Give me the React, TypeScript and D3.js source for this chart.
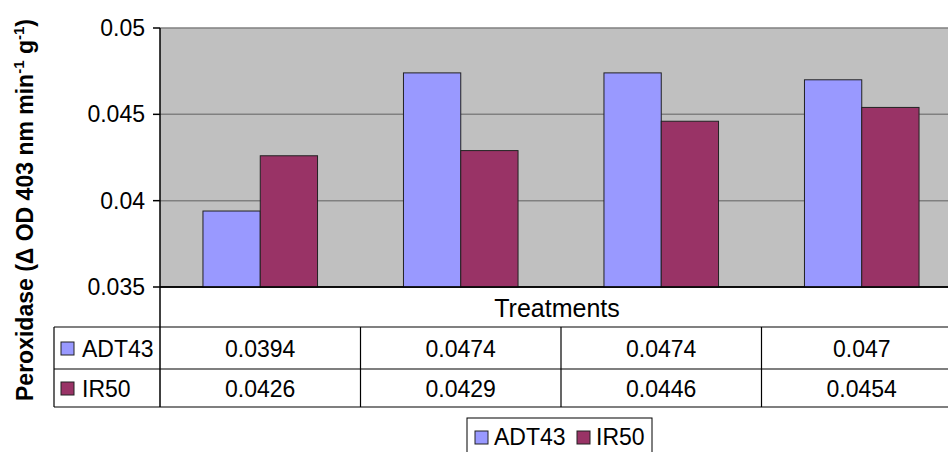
import React, { useEffect, useRef } from 'react';
import * as d3 from 'd3';

const treatments = ['T1', 'T2', 'T3', 'T4'];
const seriesNames = ['ADT43', 'IR50'];
const adt43 = [0.0394, 0.0474, 0.0474, 0.047];
const ir50 = [0.0426, 0.0429, 0.0446, 0.0454];
const yTicks = [0.035, 0.04, 0.045, 0.05];
const tableLabels = [
  ['0.0394', '0.0474', '0.0474', '0.047'],
  ['0.0426', '0.0429', '0.0446', '0.0454'],
];

const COLORS: Record<string, string> = {
  ADT43: '#9999ff',
  IR50: '#993366',
};

const FONT = 'Arial, "Liberation Sans", sans-serif';

const App: React.FC = () => {
  const svgRef = useRef<SVGSVGElement>(null);

  useEffect(() => {
    if (!svgRef.current) return;
    const svg = d3.select(svgRef.current);
    svg.selectAll('*').remove();

    const left = 160;
    const right = 962;
    const top = 28;
    const bottom = 287;
    const tableTop = 327;
    const row1 = 369;
    const row2 = 407;
    const headerLeft = 54;

    const y = d3.scaleLinear().domain([0.035, 0.05]).range([bottom, top]);
    const x0 = d3.scaleBand<string>().domain(treatments).range([left, right]);
    const bw = x0.bandwidth() / 3.5;
    const x1 = d3
      .scaleBand<string>()
      .domain(seriesNames)
      .range([bw * 0.75, bw * 2.75]);

    // plot background
    svg
      .append('rect')
      .attr('x', left)
      .attr('y', top)
      .attr('width', right - left)
      .attr('height', bottom - top)
      .attr('fill', '#c0c0c0');

    // gridlines
    yTicks.forEach((t) => {
      svg
        .append('line')
        .attr('x1', left)
        .attr('x2', right)
        .attr('y1', y(t))
        .attr('y2', y(t))
        .attr('stroke', t === 0.035 ? '#000' : '#808080')
        .attr('stroke-width', 1.5);
    });

    // bars
    const rows = [
      { name: 'ADT43', values: adt43 },
      { name: 'IR50', values: ir50 },
    ];
    rows.forEach((s) => {
      s.values.forEach((v, i) => {
        svg
          .append('rect')
          .attr('x', x0(treatments[i])! + x1(s.name)!)
          .attr('y', y(v))
          .attr('width', x1.bandwidth())
          .attr('height', bottom - y(v))
          .attr('fill', COLORS[s.name])
          .attr('stroke', '#222')
          .attr('stroke-width', 1);
      });
    });

    // bottom axis line
    svg
      .append('line')
      .attr('x1', left)
      .attr('x2', right)
      .attr('y1', bottom)
      .attr('y2', bottom)
      .attr('stroke', '#000')
      .attr('stroke-width', 1.5);

    // y axis ticks + labels
    yTicks.forEach((t) => {
      svg
        .append('line')
        .attr('x1', left - 7)
        .attr('x2', left)
        .attr('y1', y(t))
        .attr('y2', y(t))
        .attr('stroke', '#000')
        .attr('stroke-width', 1.5);
      svg
        .append('text')
        .attr('x', 145)
        .attr('y', y(t) + 8)
        .attr('text-anchor', 'end')
        .attr('font-family', FONT)
        .attr('font-size', 23)
        .attr('fill', '#000')
        .text(String(t));
    });

    // y axis title
    const title = svg
      .append('text')
      .attr('transform', `translate(33, 210) rotate(-90)`)
      .attr('text-anchor', 'middle')
      .attr('font-family', FONT)
      .attr('font-size', 23)
      .attr('font-weight', 'bold')
      .attr('fill', '#000');
    title.append('tspan').text('Peroxidase (\u0394 OD 403 nm min');
    title.append('tspan').attr('font-size', 15).attr('dy', -9).text('-1');
    title.append('tspan').attr('dy', 9).text(' g');
    title.append('tspan').attr('font-size', 15).attr('dy', -9).text('-1');
    title.append('tspan').attr('dy', 9).text(')');

    // table: axis title row
    svg
      .append('text')
      .attr('x', (left + right) / 2 - 4)
      .attr('y', 317)
      .attr('text-anchor', 'middle')
      .attr('font-family', FONT)
      .attr('font-size', 25)
      .attr('fill', '#000')
      .text('Treatments');

    // table lines
    svg
      .append('line')
      .attr('x1', headerLeft)
      .attr('x2', right)
      .attr('y1', tableTop)
      .attr('y2', tableTop)
      .attr('stroke', '#808080')
      .attr('stroke-width', 2);
    [row1, row2].forEach((yy) => {
      svg
        .append('line')
        .attr('x1', headerLeft)
        .attr('x2', right)
        .attr('y1', yy)
        .attr('y2', yy)
        .attr('stroke', '#000')
        .attr('stroke-width', 1.2);
    });
    svg
      .append('line')
      .attr('x1', headerLeft)
      .attr('x2', headerLeft)
      .attr('y1', tableTop)
      .attr('y2', row2)
      .attr('stroke', '#000')
      .attr('stroke-width', 1.2);
    svg
      .append('line')
      .attr('x1', left)
      .attr('x2', left)
      .attr('y1', top)
      .attr('y2', row2)
      .attr('stroke', '#000')
      .attr('stroke-width', 1.5);
    treatments.slice(1).forEach((t) => {
      svg
        .append('line')
        .attr('x1', x0(t)!)
        .attr('x2', x0(t)!)
        .attr('y1', tableTop)
        .attr('y2', row2)
        .attr('stroke', '#000')
        .attr('stroke-width', 1.2);
    });

    // table rows
    const rowTops = [tableTop, row1];
    const rowBottoms = [row1, row2];
    seriesNames.forEach((name, r) => {
      const cy = (rowTops[r] + rowBottoms[r]) / 2;
      svg
        .append('rect')
        .attr('x', 61)
        .attr('y', cy - 6)
        .attr('width', 13)
        .attr('height', 13)
        .attr('fill', COLORS[name])
        .attr('stroke', '#222')
        .attr('stroke-width', 1);
      svg
        .append('text')
        .attr('x', 82)
        .attr('y', cy + 9)
        .attr('font-family', FONT)
        .attr('font-size', 23)
        .attr('fill', '#000')
        .text(name);
      tableLabels[r].forEach((lbl, i) => {
        svg
          .append('text')
          .attr('x', x0(treatments[i])! + x0.bandwidth() / 2)
          .attr('y', cy + 9)
          .attr('text-anchor', 'middle')
          .attr('font-family', FONT)
          .attr('font-size', 23)
          .attr('fill', '#000')
          .text(lbl);
      });
    });

    // legend
    const lg = svg.append('g').attr('transform', 'translate(467, 418)');
    lg.append('rect')
      .attr('x', 0)
      .attr('y', 0)
      .attr('width', 185)
      .attr('height', 50)
      .attr('fill', '#fff')
      .attr('stroke', '#000')
      .attr('stroke-width', 1);
    const legendX = [8, 110];
    seriesNames.forEach((name, i) => {
      lg.append('rect')
        .attr('x', legendX[i])
        .attr('y', 13)
        .attr('width', 13)
        .attr('height', 13)
        .attr('fill', COLORS[name])
        .attr('stroke', '#222')
        .attr('stroke-width', 1);
      lg.append('text')
        .attr('x', legendX[i] + 19)
        .attr('y', 27)
        .attr('font-family', FONT)
        .attr('font-size', 23)
        .attr('fill', '#000')
        .text(name);
    });
  }, []);

  return (
    <svg
      ref={svgRef}
      width={948}
      height={452}
      style={{ position: 'absolute', left: 0, top: 0, background: '#fff' }}
    />
  );
};

export default App;
